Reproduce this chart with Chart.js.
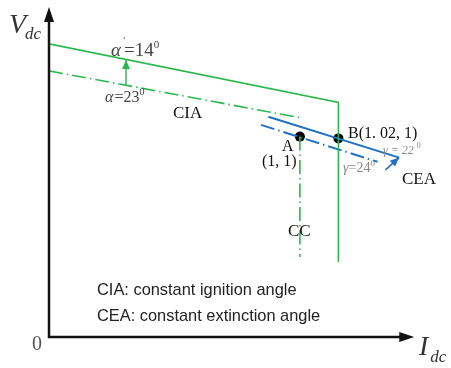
<!DOCTYPE html>
<html><head><meta charset="utf-8">
<script src="https://cdn.jsdelivr.net/npm/chart.js@4/dist/chart.umd.min.js"></script>
<style>html,body{margin:0;padding:0;background:#fff}#wrap{width:451px;height:368px;position:relative}</style>
</head><body><div id="wrap"><canvas id="c"></canvas></div>
<script>
// Schematic V-I characteristic (arbitrary units: x = Idc, y = Vdc)
const ciaRectifier = [[0,97.7],[72.9,78.2],[72.9,25]];      // solid green: CIA (alpha'=14°) + CC
const ciaInverter  = [[0,88.7],[63.2,73.1]];                 // dash-dot green: CIA (alpha=23°)
const ccInverter   = [[63.2,66.8],[63.2,26.7]];              // dash-dot green: CC
const ceaSolid     = [[55.25,73.4],[88.2,59.8]];             // solid blue: CEA (gamma=22°)
const ceaDashed    = [[53.4,70.7],[82.75,58.4]];             // dash-dot blue: CEA (gamma=24°)
const shiftGreen   = [[19.4,84],[19.4,92.3]];                // green arrow
const shiftBlue    = [[84.75,55.7],[88.2,59.8]];             // blue arrow
const opPoints     = [[63.2,66.8],[72.9,66.2]];              // A, B
const axisMax      = {x:92, y:110};

const GREEN = '#2db84d', BLUE = '#2272c3';
const pts = a => a.map(p => ({x:p[0], y:p[1]}));

function arrowHead(ctx, x1, y1, x2, y2, len, w, color){
  const a = Math.atan2(y2-y1, x2-x1);
  ctx.save(); ctx.fillStyle = color; ctx.beginPath();
  ctx.moveTo(x2, y2);
  ctx.lineTo(x2 - len*Math.cos(a) + w/2*Math.sin(a), y2 - len*Math.sin(a) - w/2*Math.cos(a));
  ctx.lineTo(x2 - len*Math.cos(a) - w/2*Math.sin(a), y2 - len*Math.sin(a) + w/2*Math.cos(a));
  ctx.closePath(); ctx.fill(); ctx.restore();
}
function rich(ctx, x, y, parts){
  let cx = x;
  for (const p of parts){
    ctx.font = p.font; ctx.fillStyle = p.color || '#333';
    ctx.fillText(p.t, cx + (p.dx||0), y + (p.dy||0));
    cx += ctx.measureText(p.t).width + (p.dx||0);
  }
}

const deco = {
  id:'deco',
  afterDatasetsDraw(chart){
    const ctx = chart.ctx, sx = chart.scales.x, sy = chart.scales.y;
    const X = v => sx.getPixelForValue(v), Y = v => sy.getPixelForValue(v);
    ctx.save();
    // axes
    ctx.strokeStyle = '#111'; ctx.lineWidth = 2.5; ctx.beginPath();
    ctx.moveTo(X(0), Y(axisMax.y) + 10); ctx.lineTo(X(0), Y(0)); ctx.lineTo(X(axisMax.x) - 10, Y(0)); ctx.stroke();
    arrowHead(ctx, X(0), Y(0), X(0), Y(axisMax.y), 15, 10, '#111');
    arrowHead(ctx, X(0), Y(0), X(axisMax.x), Y(0), 15, 10, '#111');
    // shift arrows
    arrowHead(ctx, X(shiftGreen[0][0]), Y(shiftGreen[0][1]), X(shiftGreen[1][0]), Y(shiftGreen[1][1]), 9, 8, GREEN);
    arrowHead(ctx, X(shiftBlue[0][0]), Y(shiftBlue[0][1]), X(shiftBlue[1][0]), Y(shiftBlue[1][1]), 9, 8, BLUE);
    ctx.textBaseline = 'alphabetic'; ctx.textAlign = 'left';
    const serif = '"Liberation Serif","DejaVu Serif",serif';
    // axis labels
    rich(ctx, 9, 33, [{t:'V', font:'italic 28px '+serif, color:'#333'}, {t:'dc', font:'italic 17px '+serif, color:'#333', dx:-1, dy:6}]);
    rich(ctx, 419, 355, [{t:'I', font:'italic 28px '+serif, color:'#333'}, {t:'dc', font:'italic 17px '+serif, color:'#333', dx:2, dy:7}]);
    rich(ctx, 32, 350, [{t:'0', font:'20px '+serif, color:'#555'}]);
    // alpha labels
    rich(ctx, 111, 56, [{t:'α', font:'italic 19px '+serif, color:'#444'}, {t:'=14', font:'19px '+serif, color:'#444', dx:3}, {t:'0', font:'11px '+serif, color:'#444', dy:-8}]);
    rich(ctx, 122, 46, [{t:'\u02C8', font:'13px '+serif, color:'#444'}]);
    rich(ctx, 105, 102, [{t:'α', font:'italic 16px '+serif, color:'#444'}, {t:'=23', font:'16px '+serif, color:'#444', dx:1}, {t:'0', font:'10px '+serif, color:'#444', dy:-7}]);
    // region labels
    rich(ctx, 173, 118, [{t:'CIA', font:'17px '+serif, color:'#111'}]);
    rich(ctx, 402, 184, [{t:'CEA', font:'17px '+serif, color:'#111'}]);
    rich(ctx, 288, 236, [{t:'CC', font:'17px '+serif, color:'#111'}]);
    rich(ctx, 282, 151, [{t:'A', font:'16px '+serif, color:'#111'}]);
    rich(ctx, 262, 166, [{t:'(1, 1)', font:'16px '+serif, color:'#111'}]);
    rich(ctx, 348, 138, [{t:'B(1. 02, 1)', font:'16px '+serif, color:'#111'}]);
    rich(ctx, 383, 154, [{t:'γ = 22 ', font:'italic 12px '+serif, color:'#888'}, {t:'0', font:'8px '+serif, color:'#888', dy:-6}]);
    rich(ctx, 343, 172, [{t:'γ', font:'italic 14px '+serif, color:'#888'}, {t:'=24', font:'14px '+serif, color:'#888'}, {t:'0', font:'9px '+serif, color:'#888', dy:-6}]);
    // legend text
    const sans = '"Liberation Sans",Arial,sans-serif';
    rich(ctx, 97, 295, [{t:'CIA: constant ignition angle', font:'16.4px '+sans, color:'#222'}]);
    rich(ctx, 97, 321, [{t:'CEA: constant extinction angle', font:'16.4px '+sans, color:'#222'}]);
    ctx.restore();
  }
};

const DASHDOT = [14,4,1.5,4];
new Chart(document.getElementById('c'), {
  type:'scatter',
  data:{ datasets:[
    {data:pts(ciaRectifier), showLine:true, borderColor:GREEN, borderWidth:1.6, pointRadius:0, tension:0},
    {data:pts(ciaInverter), showLine:true, borderColor:GREEN, borderWidth:1.6, borderDash:DASHDOT, pointRadius:0},
    {data:pts(ccInverter), showLine:true, borderColor:GREEN, borderWidth:1.6, borderDash:DASHDOT, pointRadius:0},
    {data:pts(ceaSolid), showLine:true, borderColor:BLUE, borderWidth:2, pointRadius:0},
    {data:pts(ceaDashed), showLine:true, borderColor:BLUE, borderWidth:2, borderDash:DASHDOT, pointRadius:0},
    {data:pts(shiftGreen), showLine:true, borderColor:GREEN, borderWidth:1.4, pointRadius:0},
    {data:pts(shiftBlue), showLine:true, borderColor:BLUE, borderWidth:1.6, pointRadius:0},
    {data:pts(opPoints), showLine:false, pointRadius:5, pointBackgroundColor:'#000', pointBorderColor:'#000', pointBorderWidth:0}
  ]},
  options:{
    responsive:true, maintainAspectRatio:false, animation:false,
    layout:{padding:{left:49, right:2, top:7, bottom:31}},
    plugins:{legend:{display:false}, tooltip:{enabled:false}},
    events:[],
    scales:{
      x:{type:'linear', min:0, max:100, display:false},
      y:{type:'linear', min:0, max:110, display:false}
    }
  },
  plugins:[deco]
});
</script></body></html>
